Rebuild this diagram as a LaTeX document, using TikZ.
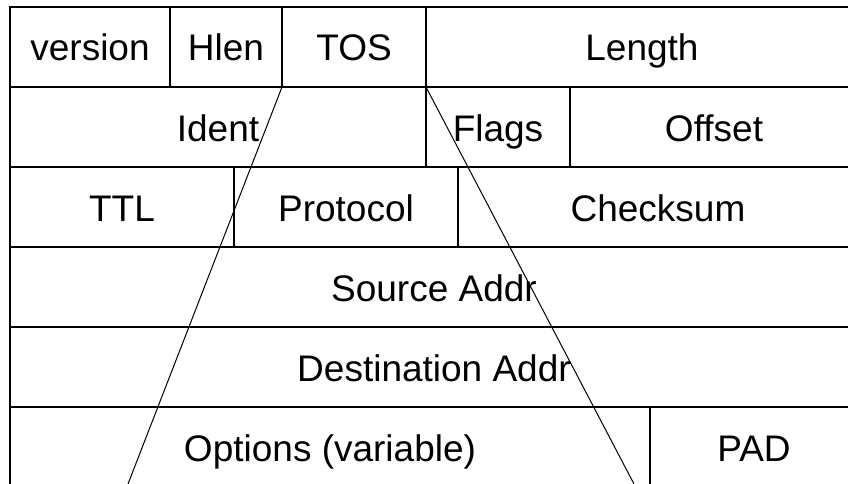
\documentclass[tikz,border=0pt]{standalone}
\usepackage{fontspec}
\setmainfont{Liberation Sans}
\tikzset{every node/.style={font=\fontsize{37}{44}\selectfont},
  field/.style={draw, line width=2pt, anchor=north west, inner sep=0pt,
    outer sep=0pt, minimum height=80pt, text height=28pt, text depth=0pt},
  zoomline/.style={line width=1pt}}
% one header field: name, left edge, right edge, top edge, label
\newcommand{\ipfield}[5]
{\node[field, minimum width={(#3-#2)*1pt}] (#1) at (#2,#4) {#5};}

\begin{document}
\begin{tikzpicture}[x=1pt,y=-1pt]
  \clip (0,0) rectangle (848,484);
  \ipfield{version}{10}{170}{7}{version}
  \ipfield{hlen}{170}{282}{7}{Hlen}
  \ipfield{tos}{282}{426}{7}{TOS}
  \ipfield{length}{426}{858}{7}{Length}
  \ipfield{ident}{10}{426}{87}{Ident}
  \ipfield{flags}{426}{570}{87}{Flags}
  \ipfield{offset}{570}{858}{87}{Offset}
  \ipfield{ttl}{10}{234}{167}{TTL}
  \ipfield{protocol}{234}{458}{167}{Protocol}
  \ipfield{checksum}{458}{858}{167}{Checksum}
  \ipfield{src}{10}{858}{247}{Source Addr}
  \ipfield{dst}{10}{858}{327}{Destination Addr}
  \ipfield{options}{10}{650}{407}{Options (variable)}
  \ipfield{pad}{650}{858}{407}{PAD}
  % TOS blown up below
  \coordinate (lfoot) at (128,484);
  \coordinate (rfoot) at (634,484);
  \draw[zoomline] (tos.south west) -- (lfoot);
  \draw[zoomline] (tos.south east) -- (rfoot);
\end{tikzpicture}
\end{document}
